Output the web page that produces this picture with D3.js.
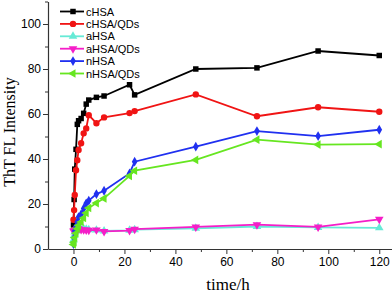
<!DOCTYPE html>
<html>
<head>
<meta charset="utf-8">
<script src="https://cdn.jsdelivr.net/npm/d3@7"></script>
<style>
  body { margin: 0; background: #fff; }
  svg { display: block; }
  .tick text { font-family: Arial, "Liberation Sans", sans-serif; font-size: 12px; fill: #000; }
</style>
</head>
<body>
<div id="chart"></div>
<script>
// sampling times (h)
const times = [0, 0.25, 0.5, 1, 1.5, 2, 3, 4, 5, 6, 9, 12, 22, 24, 48, 72, 96, 120];

const cHSA     = [10.7, 22, 35.5, 44.3, 55.4, 57, 58, 60.3, 64.4, 66.2, 67.4, 68, 73, 68.5, 80, 80.5, 88, 86];
const cHSAQDs  = [13, 17.3, 24, 35, 39.5, 44, 47, 51.4, 53.6, 59.5, 55.9, 58.5, 60.4, 61.3, 68.7, 59, 63, 61];
const aHSA     = [4, 6, 7.5, 8, 8.5, 8.6, 8.8, 9, 8.8, 8.6, 8.4, 8, 8.3, 8.6, 9.2, 10, 9.6, 9.4];
const aHSAQDs  = [8, 8, 8.2, 8.5, 9, 9, 8.6, 8.5, 8.4, 8.3, 8.5, 7.8, 8.2, 8.8, 9.8, 10.8, 9.8, 13.2];
const nHSA     = [2.2, 5, 8, 10, 12, 14.2, 15.5, 18, 20.3, 21.5, 24.4, 25.9, 33.6, 38.8, 45.5, 52.4, 50.2, 53];
const nHSAQDs  = [2, 3, 5, 7, 9, 10.5, 12, 13.8, 16, 18.2, 20.4, 22.5, 32.5, 34.8, 39.6, 48.6, 46.4, 46.6];

const seriesNames = ["cHSA", "cHSA/QDs", "aHSA", "aHSA/QDs", "nHSA", "nHSA/QDs"];
const seriesValues = [cHSA, cHSAQDs, aHSA, aHSAQDs, nHSA, nHSAQDs];

const xTicks = [0, 20, 40, 60, 80, 100, 120];
const yTicks = [0, 20, 40, 60, 80, 100];

const colors = ["#000000", "#f01414", "#66ead6", "#f51ec8", "#2030f0", "#66e620"];
const symbols = [d3.symbolSquare, d3.symbolCircle, "up", "down", "diamond", "left"];

const w = 392, h = 293;

const svg = d3.select("#chart").append("svg")
  .attr("width", w)
  .attr("height", h);

const x = d3.scaleLinear().domain([-10, 125]).range([48, 392]);
const y = d3.scaleLinear().domain([0, 110]).range([249, 1.5]);

// minor ticks (no labels)
const xMinor = d3.range(10, 125, 20);
const yMinor = d3.range(10, 111, 20);

svg.append("g")
  .attr("transform", "translate(0," + y(0) + ")")
  .call(d3.axisBottom(x).tickValues(xMinor).tickSize(3).tickFormat(""))
  .call(g => g.select(".domain").remove())
  .selectAll("line").attr("stroke", "#333");

svg.append("g")
  .attr("transform", "translate(" + x(-10) + ",0)")
  .call(d3.axisLeft(y).tickValues(yMinor).tickSize(3).tickFormat(""))
  .call(g => g.select(".domain").remove())
  .selectAll("line").attr("stroke", "#333");

// x-axis
const xAxis = svg.append("g")
  .attr("transform", "translate(0," + y(0) + ")")
  .call(d3.axisBottom(x).tickValues(xTicks).tickSize(5).tickSizeOuter(0).tickPadding(3));
xAxis.select(".domain").attr("stroke", "#333").attr("stroke-width", 1.2);
xAxis.selectAll("line").attr("stroke", "#333");

// y-axis
const yAxis = svg.append("g")
  .attr("transform", "translate(" + x(-10) + ",0)")
  .call(d3.axisLeft(y).tickValues(yTicks).tickSize(5).tickSizeOuter(0).tickPadding(2));
yAxis.select(".domain").attr("stroke", "#333").attr("stroke-width", 1.2);
yAxis.selectAll("line").attr("stroke", "#333");

// axis titles
svg.append("text")
  .attr("x", 228)
  .attr("y", 290)
  .attr("text-anchor", "middle")
  .style("font-family", "'Liberation Serif', 'Times New Roman', serif")
  .style("font-size", "17px")
  .text("time/h");

svg.append("text")
  .attr("transform", "translate(15,132) rotate(-90)")
  .attr("text-anchor", "middle")
  .style("font-family", "'Liberation Serif', 'Times New Roman', serif")
  .style("font-size", "16px")
  .text("ThT FL Intensity");

// marker path generator
function markerPath(sym) {
  if (sym === "up" || sym === "down" || sym === "left") return d3.symbol(d3.symbolTriangle, 32)();
  if (sym === "diamond") return d3.symbol(d3.symbolDiamond, 28)();
  if (sym === d3.symbolCircle) return d3.symbol(sym, 32)();
  return d3.symbol(sym, 30)();
}
function markerRot(sym) {
  if (sym === "down") return 180;
  if (sym === "left") return -90;
  return 0;
}

const line = d3.line()
  .x((d, i) => x(times[i]))
  .y(d => y(d));

seriesValues.forEach((vals, k) => {
  const g = svg.append("g").attr("class", "series");
  g.append("path")
    .datum(vals)
    .attr("d", line)
    .attr("fill", "none")
    .attr("stroke", colors[k])
    .attr("stroke-width", 1.8);
  g.selectAll("path.mk")
    .data(vals)
    .enter()
    .append("path")
    .attr("class", "mk")
    .attr("d", markerPath(symbols[k]))
    .attr("transform", (d, i) => "translate(" + x(times[i]) + "," + y(d) + ") rotate(" + markerRot(symbols[k]) + ")")
    .attr("fill", colors[k]);
});

// legend
const legend = svg.append("g").attr("transform", "translate(60,11.5)");
seriesNames.forEach((name, k) => {
  const row = legend.append("g").attr("transform", "translate(0," + (k * 12.4) + ")");
  row.append("line")
    .attr("x1", 0).attr("x2", 24)
    .attr("stroke", colors[k])
    .attr("stroke-width", 1.8);
  row.append("path")
    .attr("d", markerPath(symbols[k]))
    .attr("transform", "translate(13,0) rotate(" + markerRot(symbols[k]) + ")")
    .attr("fill", colors[k]);
  row.append("text")
    .attr("x", 26)
    .attr("y", 4)
    .style("font-family", "Arial, 'Liberation Sans', sans-serif")
    .style("font-size", "11px")
    .text(name);
});
</script>
</body>
</html>
